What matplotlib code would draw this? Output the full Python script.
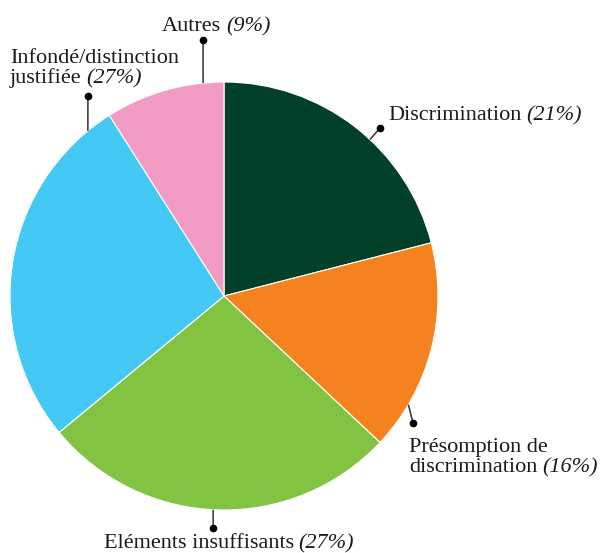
import numpy as np
import matplotlib.pyplot as plt

# parts of the pie, clockwise from 12 o'clock
names = ["Discrimination", "Présomption de\ndiscrimination", "Eléments insuffisants",
         "Infondé/distinction\njustifiée", "Autres"]
values = [21, 16, 27, 27, 9]
colors = ["#02402a", "#f4821f", "#82c341", "#44c8f4", "#f29bc5"]

W, H = 601, 553
R = 214            # pie radius in px
cx, cy = 224, 296  # pie centre in px (from top-left)

plt.rcParams['font.family'] = ['Liberation Serif', 'DejaVu Serif']
FS = 16

fig = plt.figure(figsize=(W / 100, H / 100), dpi=100)
ax = fig.add_axes([0, 0, 1, 1])
wedges, _ = ax.pie(values, colors=colors, startangle=90, counterclock=False, radius=1,
                   wedgeprops=dict(edgecolor='white', linewidth=0.8))
ax.set_aspect('auto')
ax.set_xlim(-cx / R, (W - cx) / R)
ax.set_ylim(-(H - cy) / R, cy / R)
ax.axis('off')

# leader lines: angle on the rim (deg) -> dot (data units)
leaders = [(47.0, (0.729, 0.785)),
           (-30.5, (0.883, -0.593)),
           (-92.9, (-0.051, -1.084)),
           (129.5, (-0.636, 0.935)),
           (95.6, (-0.098, 1.196))]
for ang, (dx, dy) in leaders:
    a = np.deg2rad(ang)
    ax.plot([np.cos(a), dx], [np.sin(a), dy], color='#333333', lw=1.1, solid_capstyle='butt')
    ax.plot(dx, dy, 'o', color='black', ms=4.5)

fig.canvas.draw()
rend = fig.canvas.get_renderer()


def label(px, py, text, pct, ha='left', lh=20):
    lines = text.split('\n')
    arts = []
    for i, s in enumerate(lines):
        t = fig.text(px, H - (py + i * lh), s, transform=None, fontsize=FS,
                     ha='left', va='baseline', color='#1a1a1a')
        arts.append(t)
    last = arts[-1]
    bb = last.get_window_extent(rend)
    gap = FS * 0.3
    it = fig.text(bb.x1 + gap, H - (py + (len(lines) - 1) * lh), "(%d%%)" % pct,
                  transform=None, fontsize=FS, style='italic', ha='left',
                  va='baseline', color='#1a1a1a')
    if ha == 'center':
        w = it.get_window_extent(rend).x1 - bb.x0
        for t in arts + [it]:
            x, y = t.get_position()
            t.set_position((x - w / 2, y))


label(388, 120, names[0], values[0])
label(409, 452, names[1], values[1])
label(229, 548, names[2], values[2], ha='center')
label(10, 63, names[3], values[3])
label(216, 31, names[4], values[4], ha='center')

fig.savefig('out.png', dpi=100)
